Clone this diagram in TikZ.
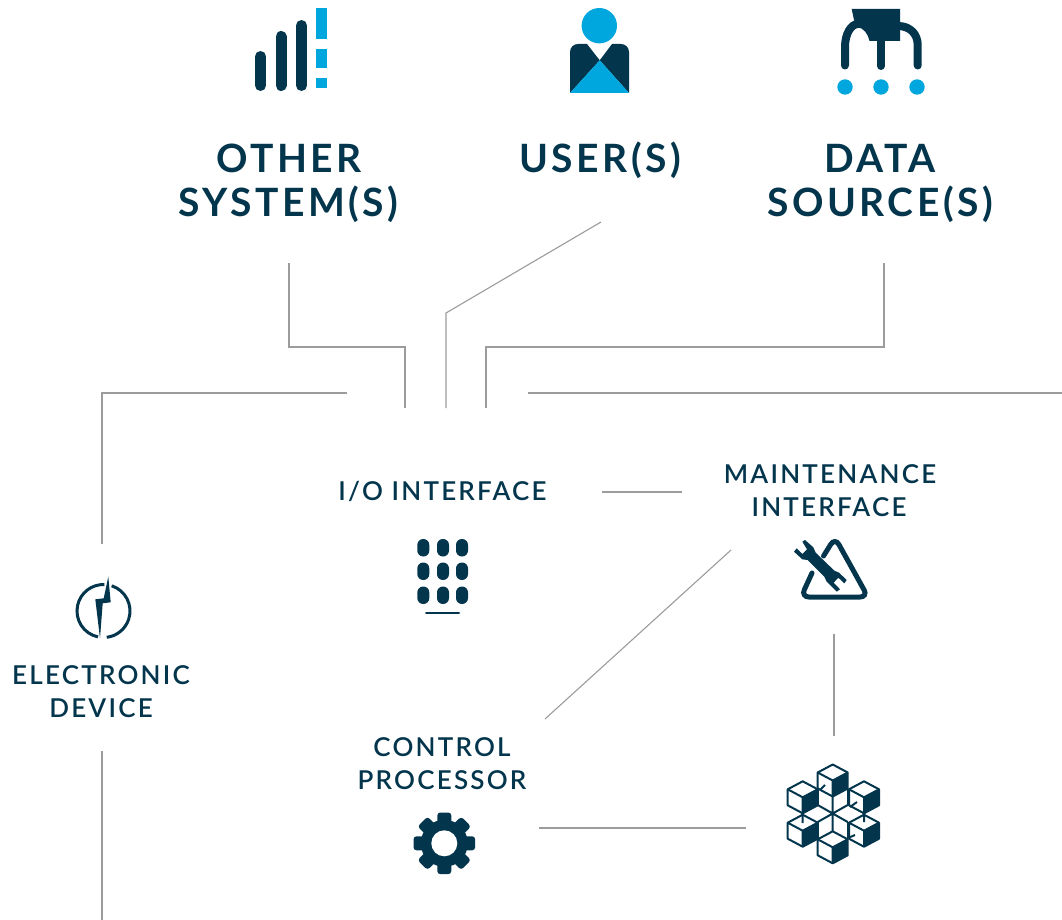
\documentclass[tikz,border=0pt]{standalone}
\usepackage{fontspec}
\newfontfamily\biglab[LetterSpace=9]{Lato Bold}
\newfontfamily\smalllab[LetterSpace=8.5]{Lato Semibold}
\definecolor{ink}{HTML}{03364D}
\definecolor{sky}{HTML}{00A7DE}
\definecolor{wire}{HTML}{9C9C9C}
\tikzset{
  wirel/.style={draw=wire,line width=1.1pt},
  biglabel/.style={anchor=base,text=ink,inner sep=0pt,font=\biglab\fontsize{39}{39}\selectfont},
  smalllabel/.style={anchor=base,text=ink,inner sep=0pt,font=\smalllab\fontsize{26}{26}\selectfont},
  inkfill/.style={fill=ink,draw=none},
  skyfill/.style={fill=sky,draw=none},
  bar/.style={draw=ink,line width=11pt,line cap=round},
  arm/.style={draw=ink,line width=8pt,line cap=round},
  cubeline/.style={draw=ink,line width=2pt,line join=round}
}
\newcommand{\cubeicon}[2]{%
  \fill[white] (#1,#2-16)--(#1+15,#2-8)--(#1+15,#2+8)--(#1,#2+16)--(#1-15,#2+8)--(#1-15,#2-8)--cycle;
  \fill[ink] (#1,#2)--(#1+15,#2-8)--(#1+15,#2+8)--(#1,#2+16)--cycle;
  \draw[cubeline] (#1,#2-16)--(#1+15,#2-8)--(#1+15,#2+8)--(#1,#2+16)--(#1-15,#2+8)--(#1-15,#2-8)--cycle;
  \draw[cubeline] (#1-15,#2-8)--(#1,#2)--(#1+15,#2-8) (#1,#2)--(#1,#2+16);
}
\begin{document}
\begin{tikzpicture}[x=1pt,y=-1pt]
\useasboundingbox (0,0) rectangle (1062,920);
\fill[white] (0,0) rectangle (1062,920);

% labels
\node[biglabel] (other1) at (289,172.5) {OTHER};
\node[biglabel] (other2) at (288.5,216.5) {SYSTEM(S)};
\node[biglabel] (user) at (600,172.5) {USER(S)};
\node[biglabel] (data1) at (880,172.5) {DATA};
\node[biglabel] (data2) at (880,216.5) {SOURCE(S)};
\node[smalllabel] (io) at (442.5,500) {I/O INTERFACE};
\node[smalllabel] (maint1) at (830,483) {MAINTENANCE};
\node[smalllabel] (maint2) at (829,516) {INTERFACE};
\node[smalllabel] (elec1) at (101,684) {ELECTRONIC};
\node[smalllabel] (elec2) at (101,717) {DEVICE};
\node[smalllabel] (ctrl1) at (442,756) {CONTROL};
\node[smalllabel] (ctrl2) at (442,789) {PROCESSOR};

% connector ends
\coordinate (a1) at (289,263); \coordinate (a2) at (405,408);
\coordinate (b1) at (601,222); \coordinate (b2) at (446,313); \coordinate (b3) at (446,408);
\coordinate (c1) at (884,263); \coordinate (c2) at (486,408);
\coordinate (d1) at (347,393); \coordinate (d2) at (102,544);
\coordinate (e1) at (528,393); \coordinate (e2) at (1062,393);
\coordinate (f1) at (102,751); \coordinate (f2) at (102,920);
\coordinate (g1) at (602,492); \coordinate (g2) at (682,492);
\coordinate (h1) at (731,550); \coordinate (h2) at (545,719);
\coordinate (i1) at (834,634); \coordinate (i2) at (834,736);
\coordinate (j1) at (539,828); \coordinate (j2) at (746,828);

\draw[wirel] (a1) |- (405,347) -- (a2);
\draw[wirel] (b1) -- (b2) -- (b3);
\draw[wirel] (c1) |- (486,347) -- (c2);
\draw[wirel] (d1) -| (d2);
\draw[wirel] (e1) -- (e2);
\draw[wirel] (f1) -- (f2);
\draw[wirel] (g1) -- (g2);
\draw[wirel] (h1) -- (h2);
\draw[wirel] (i1) -- (i2);
\draw[wirel] (j1) -- (j2);

% signal icon
\draw[bar] (260.5,56.5) -- (260.5,85.5);
\draw[bar] (281,36.5) -- (281,85.5);
\draw[bar] (301.5,25.5) -- (301.5,85.5);
\fill[skyfill] (316,8) rectangle (327,39);
\fill[skyfill] (316,49) rectangle (327,68);
\fill[skyfill] (316,78) rectangle (327,88);

% user icon
\fill[skyfill] (599.3,25.7) circle (17.7);
\fill[inkfill] (570,93) -- (570,52) .. controls (570,47) and (574,44) .. (578,44) -- (587,44) -- (599.7,60.3) -- (612,44) -- (621,44) .. controls (625,44) and (629,47) .. (629,52) -- (629,93) -- (599.7,60.3) -- cycle;
\fill[skyfill] (570,93) -- (599.7,60.3) -- (629,93) -- cycle;

% data source icon
\draw[arm] (845,65.5) -- (845,47) .. controls (845,34) and (851,24) .. (858,24);
\draw[arm] (917.7,65.5) -- (917.7,45) .. controls (917.7,34) and (910,26) .. (898,26);
\draw[arm] (881,40) -- (881,66);
\fill[inkfill] (851.7,9) -- (900,9) -- (900,41) -- (869.5,41) .. controls (868,34) and (864,28) .. (857,27) -- (854,20) -- cycle;
\foreach \dx in {845,881,917}{\fill[skyfill] (\dx,87) circle (7.7);}

% keypad icon
\foreach \kx in {423.3,443,462}{
  \foreach \ky in {539,562.5,586.5}{
    \fill[inkfill,rounded corners=5.9pt] (\kx-6,\ky) rectangle (\kx+6,\ky+17.5);
  }
}
\draw[draw=ink,line width=2pt,line cap=round] (426,613) -- (459,613);

% maintenance icon
\draw[draw=ink,line width=5pt,line cap=round,rounded corners=8pt] (823.5,556) -- (835,537.5) -- (868,597) -- (801,597) -- (812,573);
\fill[inkfill] (785+52/3,530+35/3) -- (785+60/3,530+30/3) -- (785+85/3,530+52/3) -- (785+92/3,530+68/3) -- (785+148/3,530+122/3) -- (785+162/3,530+128/3) -- (785+185/3,530+150/3) -- (785+178/3,530+160/3) -- (785+160/3,530+143/3) -- (785+146/3,530+158/3) -- (785+165/3,530+178/3) -- (785+155/3,530+185/3) -- (785+125/3,530+155/3) -- (785+118/3,530+140/3) -- (785+68/3,530+90/3) -- (785+52/3,530+88/3) -- (785+27/3,530+65/3) -- (785+35/3,530+55/3) -- (785+52/3,530+72/3) -- (785+66/3,530+58/3) -- cycle;

% electronic device icon
\begin{scope}[shift={(103.5,611)},y=1pt]
\draw[draw=ink,line width=3pt] (72:26.5) arc[start angle=72,end angle=-83,radius=26.5];
\draw[draw=ink,line width=3pt] (-102:26.5) arc[start angle=-102,end angle=-272,radius=26.5];
\end{scope}
\fill[inkfill] (108.3,576.7) -- (110.7,602.3) -- (102.7,603.3) -- (100,638.3) -- (95.3,599.3) -- (103.7,598.3) -- cycle;

% gear icon
\fill[inkfill] (444.3,843.3) circle (23.5);
\foreach \ang in {0,45,...,315}{
  \fill[inkfill,rounded corners=3pt,rotate around={\ang:(444.3,843.3)}] (437.3,812.5) rectangle (451.3,830);
}
\fill[white] (444.3,843.3) circle (13);

% cubes icon
\draw[cubeline] (832.7,796.5) -- (832.7,832) (817.7,805) -- (847.7,822) (817.7,822) -- (847.7,805);
\draw[cubeline] (817.7,788.5) -- (817.7,805) (847.7,788.5) -- (847.7,805);
\draw[cubeline] (817.7,822) -- (817.7,838) (847.7,822) -- (847.7,838);
\cubeicon{832.7}{780.5}
\cubeicon{802.7}{797.3}
\cubeicon{864}{797.3}
\cubeicon{802.7}{830.7}
\cubeicon{864}{830.7}
\cubeicon{832.7}{847.3}
\draw[cubeline] (820,790) -- (825,785) (850,807) -- (857,802) (802.7,813) -- (802.7,823) (864,815) -- (864,822) (848,838) -- (855,835);
\end{tikzpicture}
\end{document}
